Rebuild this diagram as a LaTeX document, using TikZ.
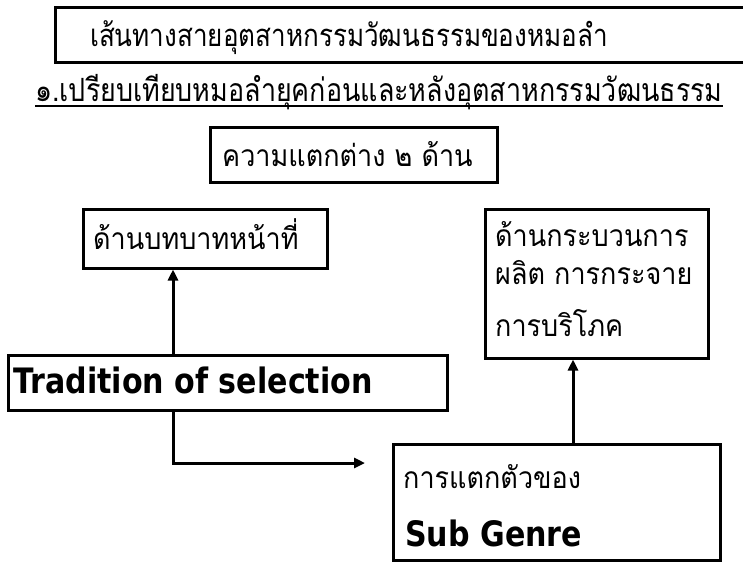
\documentclass[tikz,border=0pt]{standalone}
\usepackage{fontspec}
\setmainfont{Liberation Sans}
\newfontfamily\thaifont[Script=Thai, FakeStretch=0.84]{Loma}
\newfontfamily\thaiboite[Script=Thai, FakeStretch=0.9]{Loma}
\newfontfamily\grasfont[FakeStretch=0.86]{DejaVu Sans}
\usetikzlibrary{arrows.meta}
\tikzset{
  %% ── Boxes ────────────────────────────────────────────────────────────
  %% Plain black frames; the text sits on the left, as on the slide.
  boite/.style      = {draw=black, line width=3pt, fill=white,
                       inner sep=0pt},
  %%
  %% ── Arrows ───────────────────────────────────────────────────────────
  fleche/.style     = {-{Triangle[length=11pt, width=10pt]}, draw=black,
                       line width=3pt},
  %%
  %% ── Text ─────────────────────────────────────────────────────────────
  texteTitre/.style = {font=\thaifont\fontsize{32}{36}\selectfont,
                       inner sep=0pt, anchor=base west},
  texteThai/.style  = {font=\thaiboite\fontsize{30}{34}\selectfont,
                       inner sep=0pt, anchor=base west},
  texteGras/.style  = {font=\grasfont\bfseries\fontsize{35}{38}\selectfont,
                       inner sep=0pt, anchor=base west},
}

\begin{document}
\begin{tikzpicture}[x=1pt, y=-1pt]
\useasboundingbox (0,0) rectangle (743,565);

%% title and heading
\node[boite, minimum width=710pt, minimum height=55pt] (cadre) at (410,34.5) {};
\node[texteTitre, font=\thaifont\fontsize{31}{36}\selectfont] (titre) at (90,46)
     {เส้นทางสายอุตสาหกรรมวัฒนธรรมของหมอลำ};
\node[texteTitre] (sousTitre) at (35,101)
     {๑.เปรียบเทียบหมอลำยุคก่อนและหลังอุตสาหกรรมวัฒนธรรม};
\draw[line width=1.3pt] ([yshift=-5pt]sousTitre.base west)
     -- ([yshift=-5pt]sousTitre.base east);

%% boxes
\node[boite, minimum width=287pt, minimum height=55pt] (deux) at (353.5,154.5) {};
\node[texteThai] (deuxTxt) at (222,166) {ความแตกต่าง ๒ ด้าน};

\node[boite, minimum width=244pt, minimum height=59pt] (role) at (205,238.5) {};
\node[texteThai] (roleTxt) at (93,249) {ด้านบทบาทหน้าที่};

\node[boite, minimum width=223pt, minimum height=149pt] (procede) at (596.5,283.5) {};
\node[texteThai] (procA) at (495,246) {ด้านกระบวนการ};
\node[texteThai] (procB) at (495,284) {ผลิต การกระจาย};
\node[texteThai] (procC) at (495,336) {การบริโภค};

\node[boite, minimum width=439pt, minimum height=55pt] (tradition) at (227.5,382.5) {};
\node[texteGras] (tradTxt) at (13,393) {Tradition of selection};

\node[boite, minimum width=327pt, minimum height=116pt] (genre) at (556.5,502) {};
\node[texteThai] (genreA) at (403,488) {การแตกตัวของ};
\node[texteGras] (genreB) at (405,546) {Sub Genre};

%% connectors
\coordinate (coude) at (173,463);
\coordinate (pointe) at (365,463);
\draw[fleche] (tradition.north -| coude) -- (role.south -| coude);
\draw[fleche] (tradition.south -| coude) -- (coude) -- (pointe);
\draw[fleche] (genre.north -| 573,0) -- (procede.south -| 573,0);

\end{tikzpicture}
\end{document}
